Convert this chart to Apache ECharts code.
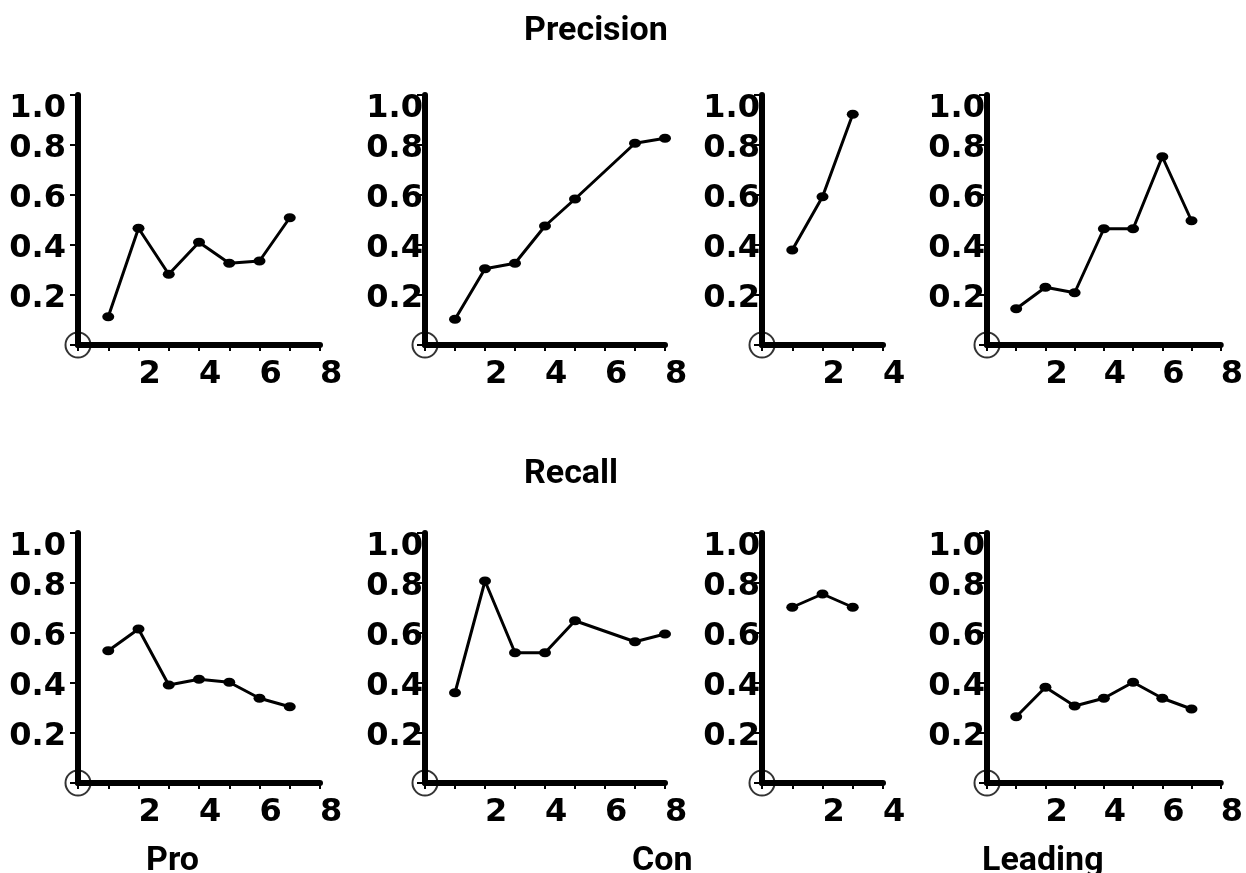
<!DOCTYPE html>
<html>
<head>
<meta charset="utf-8">
<script src="https://cdn.jsdelivr.net/npm/echarts@6/dist/echarts.min.js"></script>
<style>html,body{margin:0;padding:0;background:#fff;}#c{width:1246px;height:873px;}</style>
</head>
<body>
<div id="c"></div>
<script>
// ---- data ----
const titles = ['Precision', 'Recall'];
const colNames = ['Pro', 'Con', 'Leading'];
const xMaxes = [8, 8, 4, 8];

const precProX = [1, 2, 3, 4, 5, 6, 7];
const precProY = [0.113, 0.467, 0.283, 0.411, 0.327, 0.336, 0.509];
const precConX = [1, 2, 3, 4, 5, 7, 8];
const precConY = [0.103, 0.305, 0.327, 0.476, 0.584, 0.807, 0.827];
const precC3X = [1, 2, 3];
const precC3Y = [0.38, 0.593, 0.923];
const precLeadX = [1, 2, 3, 4, 5, 6, 7];
const precLeadY = [0.145, 0.231, 0.209, 0.465, 0.465, 0.753, 0.497];

const recProX = [1, 2, 3, 4, 5, 6, 7];
const recProY = [0.529, 0.616, 0.392, 0.415, 0.403, 0.339, 0.305];
const recConX = [1, 2, 3, 4, 5, 7, 8];
const recConY = [0.361, 0.808, 0.521, 0.521, 0.649, 0.565, 0.596];
const recC3X = [1, 2, 3];
const recC3Y = [0.703, 0.756, 0.703];
const recLeadX = [1, 2, 3, 4, 5, 6, 7];
const recLeadY = [0.265, 0.383, 0.308, 0.339, 0.403, 0.339, 0.296];

const originPoint = [[0, 0]];

const panels = [
  [precProX, precProY], [precConX, precConY], [precC3X, precC3Y], [precLeadX, precLeadY],
  [recProX, recProY], [recConX, recConY], [recC3X, recC3Y], [recLeadX, recLeadY]
];

// ---- layout ----
const colLeft = [78, 425, 762, 987];
const colWidth = [242, 240, 121, 240];
const rowTop = [95, 533];
const rowHeight = 250;
const yLabelMargin = [12, 2, 2, 2];

const numFont = 'DejaVu Sans';
const txtFont = 'Roboto';
const numStyle = { fontFamily: numFont, fontWeight: 'bold', fontSize: 32, color: '#000' };

const grids = [], xAxes = [], yAxes = [], series = [];
for (let r = 0; r < 2; r++) {
  for (let c = 0; c < 4; c++) {
    const i = r * 4 + c;
    grids.push({ left: colLeft[c], top: rowTop[r], width: colWidth[c], height: rowHeight, containLabel: false });
    xAxes.push({
      type: 'value', gridIndex: i, min: 0, max: xMaxes[c], interval: 1,
      splitLine: { show: false },
      axisLine: { show: true, onZero: false, lineStyle: { color: '#000', width: 6 } },
      axisTick: { show: true, length: 6, lineStyle: { color: '#000', width: 2 } },
      axisLabel: Object.assign({
        show: true, margin: 14, align: 'left',
        formatter: v => (v > 0 && v % 2 === 0) ? String(v) : ''
      }, numStyle)
    });
    yAxes.push({
      type: 'value', gridIndex: i, min: 0, max: 1, interval: 0.2,
      splitLine: { show: false },
      axisLine: { show: true, onZero: false, lineStyle: { color: '#000', width: 6 } },
      axisTick: { show: true, length: 8, lineStyle: { color: '#000', width: 2 } },
      axisLabel: Object.assign({
        show: true, margin: yLabelMargin[c],
        padding: [8, 0, 0, 0],
        formatter: v => v === 0 ? '' : (v === 1 ? '{m|1.0}' : v.toFixed(1)),
        rich: { m: Object.assign({ padding: [20, 0, 0, 0] }, numStyle) }
      }, numStyle)
    });
    const [xs, ys] = panels[i];
    series.push({
      type: 'line', xAxisIndex: i, yAxisIndex: i,
      data: xs.map((x, k) => [x, ys[k]]),
      symbol: 'circle', symbolSize: [12, 9], showSymbol: true,
      lineStyle: { color: '#000', width: 3 },
      itemStyle: { color: '#000' },
      silent: true, animation: false
    });
    series.push({
      type: 'scatter', xAxisIndex: i, yAxisIndex: i,
      data: originPoint, symbol: 'circle', symbolSize: 25, clip: false,
      itemStyle: { color: 'rgba(0,0,0,0)', borderColor: '#000', borderWidth: 2 },
      silent: true, animation: false, z: 1
    });
  }
}

const tStyle = { fontFamily: txtFont, fontWeight: 'bold', fontSize: 34, color: '#000' };
const option = {
  backgroundColor: '#fff',
  animation: false,
  title: [
    { text: titles[0], left: 524, top: 14, padding: 0, textStyle: tStyle },
    { text: titles[1], left: 524, top: 457, padding: 0, textStyle: tStyle },
    { text: colNames[0], left: 146, top: 844, padding: 0, textStyle: tStyle },
    { text: colNames[1], left: 632, top: 844, padding: 0, textStyle: tStyle },
    { text: colNames[2], left: 982, top: 844, padding: 0, textStyle: tStyle }
  ],
  grid: grids, xAxis: xAxes, yAxis: yAxes, series: series
};
const chart = echarts.init(document.getElementById('c'), null, { renderer: 'canvas' });
chart.setOption(option);
</script>
</body>
</html>
